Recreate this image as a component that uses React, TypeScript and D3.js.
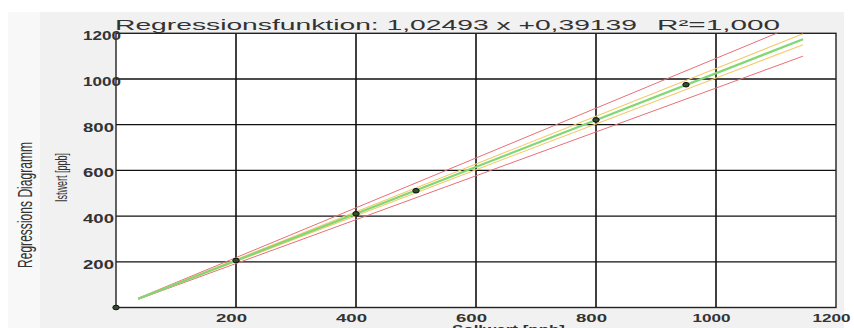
import React from "react";
import * as d3 from "d3";

// Calibration data: Sollwert (x) vs Istwert (y), ppb
const sollwert = [0, 200, 400, 500, 800, 950];
const istwert = [0, 206, 410, 511, 821, 975];

// Regression coefficients shown in the header
const slope = 1.02493;
const intercept = 0.39139;
const rSquared = "1,000";
const lineRange = [37, 1145];

// Band positions along x with the outer (red) and inner (yellow) limits
const bandX = [37, 200, 400, 600, 800, 1000, 1145];
const redUpper = [40.7, 218.4, 436.4, 654.4, 872.3, 1090.3, 1248];
const redLower = [35.9, 192.4, 384.4, 576.4, 768.3, 960.3, 1100];
const yellowUpper = [39.1, 209.6, 418.8, 628, 837.1, 1046.3, 1198];
const yellowLower = [37.5, 201.2, 402, 602.8, 803.5, 1004.3, 1150];

const xTicks = [200, 400, 600, 800, 1000, 1200];
const yTicks = [200, 400, 600, 800, 1000, 1200];
const gridX = [200, 400, 600, 800, 1000];
const gridY = [200, 400, 600, 800, 1000];

const fmt = (v: number) => v.toFixed(5).replace(".", ",");

export default function App() {
  const W = 854;
  const H = 328;
  const left = 116, right = 836, top = 33.3, bottom = 307.5;
  const x = d3.scaleLinear().domain([0, 1200]).range([left, right]);
  const y = d3.scaleLinear().domain([0, 1200]).range([bottom, top]);

  const band = (vals: number[]) =>
    d3.line<number>().x((_, i) => x(bandX[i])).y((v) => y(v))(vals) || "";
  const fitLine =
    d3
      .line<number>()
      .x((v) => x(v))
      .y((v) => y(slope * v + intercept))(lineRange) || "";

  const font = "'Liberation Sans', Arial, sans-serif";
  const digitW = (s: string) => (s.length === 4 ? 38 : 31);

  return (
    <svg
      width={W}
      height={H}
      style={{ position: "fixed", left: 0, top: 0, background: "#ffffff" }}
      fontFamily={font}
    >
      <rect x={8} y={12} width={836} height={H - 12} fill="#f1f1f1" />
      <rect x={8} y={12} width={32} height={H - 12} fill="#f8f8f8" />
      <rect x={left} y={top} width={right - left} height={bottom - top} fill="#ffffff" />

      <defs>
        <clipPath id="plotClip">
          <rect x={left} y={top} width={right - left} height={bottom - top} />
        </clipPath>
      </defs>

      {/* grid */}
      {gridX.map((v) => (
        <line key={"gx" + v} x1={x(v)} x2={x(v)} y1={top} y2={bottom} stroke="#111" strokeWidth={1.6} />
      ))}
      {gridY.map((v) => (
        <line key={"gy" + v} x1={left} x2={right} y1={y(v)} y2={y(v)} stroke="#111" strokeWidth={1.3} />
      ))}
      <rect x={left} y={top} width={right - left} height={bottom - top} fill="none" stroke="#222" strokeWidth={1.4} />

      {/* bands and regression line */}
      <g clipPath="url(#plotClip)" fill="none">
        <path d={band(redUpper)} stroke="#e86f78" strokeWidth={1} />
        <path d={band(redLower)} stroke="#e86f78" strokeWidth={1} />
        <path d={band(yellowUpper)} stroke="#f6c96c" strokeWidth={1.1} />
        <path d={band(yellowLower)} stroke="#f6c96c" strokeWidth={1.1} />
        <path d={fitLine} stroke="#7fd873" strokeWidth={2.2} />
      </g>

      {/* measured points */}
      {sollwert.map((sv, i) => (
        <ellipse
          key={"p" + i}
          cx={x(sv)}
          cy={y(istwert[i])}
          rx={3.2}
          ry={2.3}
          fill="#2f4d2f"
          stroke="#111"
          strokeWidth={1}
        />
      ))}

      {/* y tick labels */}
      {yTicks.map((v) => (
        <text
          key={"yt" + v}
          x={83}
          y={y(v) + 7}
          fontSize={12}
          fontWeight="bold"
          fill="#333"
          textLength={digitW(String(v))}
          lengthAdjust="spacingAndGlyphs"
        >
          {v}
        </text>
      ))}

      {/* x tick labels */}
      {xTicks.map((v) => (
        <text
          key={"xt" + v}
          x={x(v) - 4.5 - digitW(String(v)) / 2}
          y={322}
          fontSize={10}
          fontWeight="bold"
          fill="#333"
          textLength={digitW(String(v))}
          lengthAdjust="spacingAndGlyphs"
        >
          {v}
        </text>
      ))}

      {/* axis titles */}
      <text
        x={452}
        y={334}
        fontSize={12}
        fontWeight="bold"
        fill="#333"
        textLength={113}
        lengthAdjust="spacingAndGlyphs"
      >
        Sollwert [ppb]
      </text>
      <g transform="translate(67,202) scale(1.7,1) rotate(-90)">
        <text x={0} y={0} fontSize={9.5} fill="#333" textLength={49} lengthAdjust="spacingAndGlyphs">
          Istwert [ppb]
        </text>
      </g>
      <g transform="translate(32,268) scale(1.55,1) rotate(-90)">
        <text x={0} y={0} fontSize={13} fill="#333" textLength={126} lengthAdjust="spacingAndGlyphs">
          Regressions Diagramm
        </text>
      </g>

      {/* header */}
      <text x={115} y={30} fontSize={14.5} fill="#333" textLength={522} lengthAdjust="spacingAndGlyphs">
        {`Regressionsfunktion: ${fmt(slope)} x +${fmt(intercept)}`}
      </text>
      <text x={657} y={30} fontSize={14.5} fill="#333" textLength={123} lengthAdjust="spacingAndGlyphs">
        {`R²=${rSquared}`}
      </text>
    </svg>
  );
}
